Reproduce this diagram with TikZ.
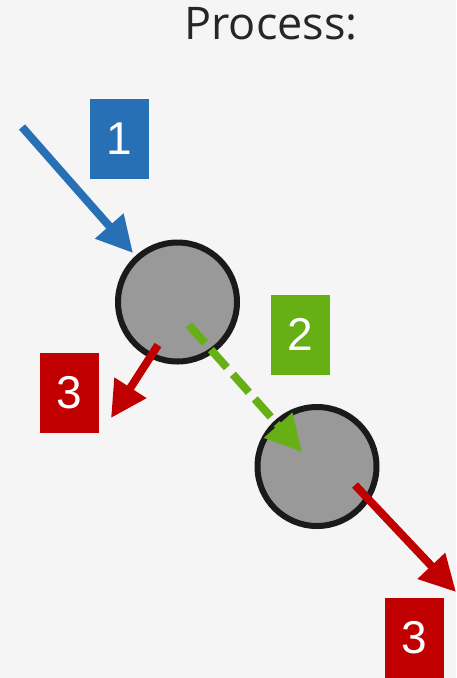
\documentclass[tikz,border=0pt]{standalone}
\usepackage{fontspec}
\usepackage{tikz}
\usetikzlibrary{arrows.meta}
\newfontfamily\titlefont{Open Sans}
\newfontfamily\stepfont{Liberation Sans}
\definecolor{bgcol}{HTML}{F5F5F5}
\definecolor{stepblue}{HTML}{2870B5}
\definecolor{stepgreen}{HTML}{66B016}
\definecolor{stepred}{HTML}{C00000}
\definecolor{ballfill}{HTML}{999999}
\definecolor{ballline}{HTML}{1A1A1A}
\definecolor{titlecol}{HTML}{262626}

\begin{document}
\begin{tikzpicture}[
  x=1pt, y=-1pt,
  ball/.style={circle, draw=ballline, line width=6pt, fill=ballfill,
               minimum size=119pt, inner sep=0pt},
  stepbox/.style={minimum width=59pt, minimum height=80pt, inner sep=0pt,
                  text=white, font=\stepfont\fontsize{46}{46}\selectfont},
  flow/.style={line width=8pt, -{Triangle[length=36pt, width=36pt]}},
  title/.style={text=titlecol, font=\titlefont\fontsize{45}{45}\selectfont},
]

\fill[bgcol] (0,0) rectangle (456,678);
\useasboundingbox (0,0) rectangle (456,678);

\node[title, anchor=base] at (271, 39) {Process:};

\node[ball] (b1) at (177.5, 302) {};
\node[ball] (b2) at (317, 466.5) {};

\node[stepbox, fill=stepblue] (s1) at (119.5, 139) {1};
\node[stepbox, fill=stepgreen] (s2) at (300.5, 334.5) {2};
\node[stepbox, fill=stepred] (s3a) at (69.5, 393) {3};
\node[stepbox, fill=stepred] (s3b) at (414, 638) {3};

% arrow ends
\coordinate (inA) at (22, 127);
\coordinate (inB) at (133, 253);
\coordinate (mvA) at (189, 325);
\coordinate (mvB) at (302, 452);
\coordinate (outA) at (158, 345);
\coordinate (outB) at (111, 418);
\coordinate (outC) at (355, 485);
\coordinate (outD) at (456, 592);

\draw[flow, stepblue] (inA) -- (inB);
\draw[flow, stepgreen, dash pattern=on 24pt off 9pt] (mvA) -- (mvB);
\draw[flow, stepred] (outA) -- (outB);
\draw[flow, stepred] (outC) -- (outD);

\end{tikzpicture}
\end{document}
